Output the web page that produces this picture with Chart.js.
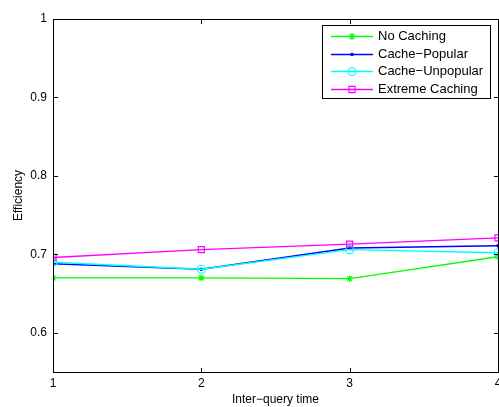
<!DOCTYPE html>
<html>
<head>
<meta charset="utf-8">
<script src="https://cdn.jsdelivr.net/npm/chart.js"></script>
<style>
  html, body { margin: 0; padding: 0; background: #fff; }
  #wrap { width: 499px; height: 407px; }
</style>
</head>
<body>
<div id="wrap"><canvas id="efficiency-chart"></canvas></div>
<script>
// values
const interQueryTimes = [1, 2, 3, 4]
const noCaching = [0.670, 0.670, 0.669, 0.697]
const cachePopular = [0.688, 0.681, 0.708, 0.711]
const cacheUnpopular = [0.690, 0.681, 0.706, 0.702]
const extremeCaching = [0.696, 0.706, 0.713, 0.721]
const yTicks = [0.6, 0.7, 0.8, 0.9, 1]
const seriesNames = ['No Caching', 'Cache−Popular', 'Cache−Unpopular', 'Extreme Caching']

const FONT = 'Arial, "Liberation Sans", Helvetica, sans-serif'

const toPoints = values => interQueryTimes.map((x, i) => ({ x, y: values[i] }))

const styles = [
  { color: '#00ff00', pointStyle: 'star', radius: 3.5 },
  { color: '#0000ff', pointStyle: 'circle', radius: 1.2, fill: true },
  { color: '#00ffff', pointStyle: 'circle', radius: 4 },
  { color: '#ff00ff', pointStyle: 'rect', radius: 4.3 }
]

const datasets = [noCaching, cachePopular, cacheUnpopular, extremeCaching].map((values, i) => ({
  label: seriesNames[i],
  data: toPoints(values),
  borderColor: styles[i].color,
  backgroundColor: styles[i].fill ? styles[i].color : 'rgba(0,0,0,0)',
  borderWidth: 1.4,
  pointStyle: styles[i].pointStyle,
  pointRadius: styles[i].radius,
  pointHoverRadius: styles[i].radius,
  pointBorderWidth: 1.2,
  tension: 0,
  order: 3 - i // last series on top, like matlab
}))

// matlab style box, inward ticks and legend
const matlabAxes = {
  id: 'matlabAxes',
  afterDraw(chart) {
    const { ctx, chartArea: a, scales } = chart
    ctx.save()
    ctx.strokeStyle = '#000'
    ctx.lineWidth = 1
    const L = Math.round(a.left) + 0.5, R = Math.round(a.right) + 0.5
    const T = Math.round(a.top) + 0.5, B = Math.round(a.bottom) + 0.5
    ctx.strokeRect(L, T, R - L, B - T)
    ctx.beginPath()
    scales.y.ticks.forEach(t => {
      const y = Math.round(scales.y.getPixelForValue(t.value)) + 0.5
      ctx.moveTo(L, y); ctx.lineTo(L + 4.5, y)
      ctx.moveTo(R, y); ctx.lineTo(R - 4.5, y)
    })
    scales.x.ticks.forEach(t => {
      const x = Math.round(scales.x.getPixelForValue(t.value)) + 0.5
      ctx.moveTo(x, B); ctx.lineTo(x, B - 4.5)
      ctx.moveTo(x, T); ctx.lineTo(x, T + 4.5)
    })
    ctx.stroke()

    // legend
    ctx.fillStyle = '#fff'
    ctx.fillRect(322.5, 25.5, 168, 73)
    ctx.strokeRect(322.5, 25.5, 168, 73)
    ctx.font = '13px ' + FONT
    ctx.textBaseline = 'middle'
    ctx.textAlign = 'left'
    chart.data.datasets.forEach((ds, i) => {
      const y = Math.round(36 + i * 17.5) + 0.5
      ctx.strokeStyle = ds.borderColor
      ctx.lineWidth = ds.borderWidth
      ctx.beginPath()
      ctx.moveTo(331, y); ctx.lineTo(373, y)
      ctx.stroke()
      ctx.fillStyle = ds.backgroundColor
      ctx.lineWidth = ds.pointBorderWidth
      Chart.helpers.drawPoint(ctx, {
        pointStyle: ds.pointStyle, radius: ds.pointRadius, borderWidth: ds.pointBorderWidth, rotation: 0
      }, 352, y)
      ctx.fillStyle = '#000'
      ctx.fillText(ds.label, 378, y)
    })
    ctx.restore()
  }
}

new Chart(document.getElementById('efficiency-chart'), {
  type: 'line',
  data: { datasets },
  options: {
    responsive: true,
    maintainAspectRatio: false,
    animation: false,
    events: [],
    // fixed plot box: left 53, top 19, right 498, bottom 372
    layout: { autoPadding: false, padding: { top: 19, right: 1, left: 0, bottom: 0 } },
    plugins: {
      legend: { display: false },
      tooltip: { enabled: false }
    },
    scales: {
      x: {
        type: 'linear',
        min: 1,
        max: 4,
        grid: { display: false, drawTicks: false },
        border: { display: false },
        afterBuildTicks: scale => { scale.ticks = interQueryTimes.map(v => ({ value: v })) },
        afterFit: scale => {
          scale.height = 35
          scale.paddingLeft = 0
          scale.paddingRight = 0
        },
        ticks: { padding: 4, color: '#000', maxRotation: 0, font: { family: FONT, size: 12 } },
        title: {
          display: true, text: 'Inter−query time', color: '#000',
          padding: { top: 1, bottom: 0 }, font: { family: FONT, size: 12 }
        }
      },
      y: {
        min: 0.55,
        max: 1,
        grid: { display: false, drawTicks: false },
        border: { display: false },
        afterBuildTicks: scale => { scale.ticks = yTicks.map(v => ({ value: v })) },
        afterFit: scale => {
          scale.width = 53
          scale.paddingTop = 0
          scale.paddingBottom = 0
        },
        ticks: { padding: 6, color: '#000', callback: v => String(v), font: { family: FONT, size: 12 } },
        title: {
          display: true, text: 'Efficiency', color: '#000',
          padding: { top: 11, bottom: 0 }, font: { family: FONT, size: 12 }
        }
      }
    }
  },
  plugins: [matlabAxes]
})
</script>
</body>
</html>
